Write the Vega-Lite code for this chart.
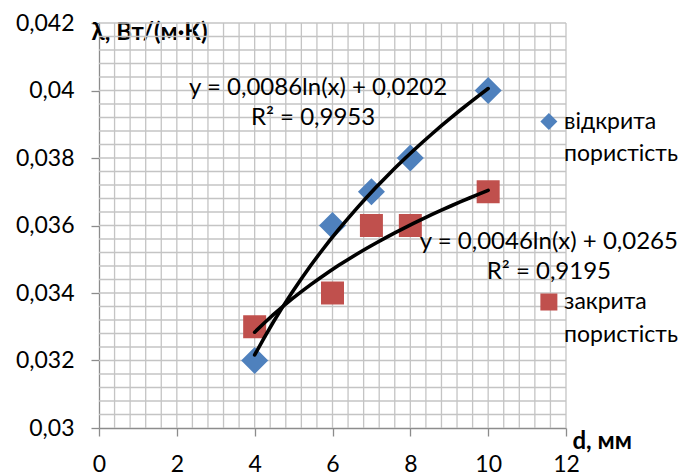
{
  "$schema": "https://vega.github.io/schema/vega-lite/v6.json",
  "width": 467,
  "height": 405,
  "autosize": {"type": "none"},
  "padding": {"left": 99, "top": 23, "right": 115, "bottom": 45},
  "background": "white",
  "resolve": {"axis": {"x": "independent", "y": "independent"}},
  "config": {
    "view": {"stroke": null},
    "font": "Lato",
    "axis": {
      "domainColor": "#8c8c8c",
      "domainWidth": 1.3,
      "tickColor": "#8c8c8c",
      "tickWidth": 1.3,
      "tickSize": 8,
      "labelFont": "Lato",
      "labelFontSize": 23,
      "labelColor": "#000000",
      "labelOverlap": false,
      "labelFlush": false,
      "titleFont": "Lato",
      "titleFontSize": 24,
      "titleFontWeight": "bold",
      "titleColor": "#000000"
    }
  },
  "datasets": {
    "pts": [
      {"series": "відкрита пористість", "d": 4, "lambda": 0.032},
      {"series": "відкрита пористість", "d": 6, "lambda": 0.036},
      {"series": "відкрита пористість", "d": 7, "lambda": 0.037},
      {"series": "відкрита пористість", "d": 8, "lambda": 0.038},
      {"series": "відкрита пористість", "d": 10, "lambda": 0.040},
      {"series": "закрита пористість", "d": 4, "lambda": 0.033},
      {"series": "закрита пористість", "d": 6, "lambda": 0.034},
      {"series": "закрита пористість", "d": 7, "lambda": 0.036},
      {"series": "закрита пористість", "d": 8, "lambda": 0.036},
      {"series": "закрита пористість", "d": 10, "lambda": 0.037}
    ],
    "gridx": [
      {"gx": 0.4}, {"gx": 0.8}, {"gx": 1.2}, {"gx": 1.6}, {"gx": 2}, {"gx": 2.4}, {"gx": 2.8}, {"gx": 3.2}, {"gx": 3.6}, {"gx": 4},
      {"gx": 4.4}, {"gx": 4.8}, {"gx": 5.2}, {"gx": 5.6}, {"gx": 6}, {"gx": 6.4}, {"gx": 6.8}, {"gx": 7.2}, {"gx": 7.6}, {"gx": 8},
      {"gx": 8.4}, {"gx": 8.8}, {"gx": 9.2}, {"gx": 9.6}, {"gx": 10}, {"gx": 10.4}, {"gx": 10.8}, {"gx": 11.2}, {"gx": 11.6}, {"gx": 12}
    ],
    "gridy": [
      {"gy": 0.0304}, {"gy": 0.0308}, {"gy": 0.0312}, {"gy": 0.0316}, {"gy": 0.032}, {"gy": 0.0324}, {"gy": 0.0328}, {"gy": 0.0332}, {"gy": 0.0336}, {"gy": 0.034},
      {"gy": 0.0344}, {"gy": 0.0348}, {"gy": 0.0352}, {"gy": 0.0356}, {"gy": 0.036}, {"gy": 0.0364}, {"gy": 0.0368}, {"gy": 0.0372}, {"gy": 0.0376}, {"gy": 0.038},
      {"gy": 0.0384}, {"gy": 0.0388}, {"gy": 0.0392}, {"gy": 0.0396}, {"gy": 0.04}, {"gy": 0.0404}, {"gy": 0.0408}, {"gy": 0.0412}, {"gy": 0.0416}, {"gy": 0.042}
    ]
  },
  "layer": [
    {
      "data": {"name": "gridx"},
      "mark": {"type": "rule", "color": "#c4c4c4", "strokeWidth": 1.3},
      "encoding": {
        "x": {"field": "gx", "type": "quantitative", "scale": {"domain": [0, 12], "nice": false, "zero": false}, "axis": null}
      }
    },
    {
      "data": {"name": "gridy"},
      "mark": {"type": "rule", "color": "#c4c4c4", "strokeWidth": 1.3},
      "encoding": {
        "y": {"field": "gy", "type": "quantitative", "scale": {"domain": [0.03, 0.042], "nice": false, "zero": false}, "axis": null}
      }
    },
    {
      "data": {"name": "pts"},
      "mark": {"type": "point", "filled": true, "opacity": 1, "strokeWidth": 0},
      "encoding": {
        "x": {
          "field": "d", "type": "quantitative",
          "scale": {"domain": [0, 12], "nice": false, "zero": false},
          "axis": {
            "orient": "bottom",
            "values": [0, 2, 4, 6, 8, 10, 12],
            "grid": false,
            "labelPadding": 17,
            "labelBaseline": "top",
            "title": "d, мм",
            "titleX": 473,
            "titleY": 13,
            "titleAlign": "left",
            "titleBaseline": "middle",
            "titleAnchor": null
          }
        },
        "y": {
          "field": "lambda", "type": "quantitative",
          "scale": {"domain": [0.03, 0.042], "nice": false, "zero": false},
          "axis": {
            "orient": "left",
            "values": [0.03, 0.032, 0.034, 0.036, 0.038, 0.04, 0.042],
            "grid": false,
            "labelExpr": "replace(format(datum.value, '~g'), '.', ',')",
            "labelPadding": 17,
            "title": "λ, Вт/(м·К)",
            "titleAngle": 0,
            "titleX": -8,
            "titleY": 9,
            "titleAlign": "left",
            "titleBaseline": "middle",
            "titleAnchor": null
          }
        },
        "color": {
          "field": "series", "type": "nominal",
          "scale": {"domain": ["відкрита пористість", "закрита пористість"], "range": ["#4F81BD", "#C0504D"]},
          "legend": null
        },
        "shape": {
          "field": "series", "type": "nominal",
          "scale": {"domain": ["відкрита пористість", "закрита пористість"], "range": ["diamond", "square"]},
          "legend": null
        },
        "size": {
          "field": "series", "type": "nominal",
          "scale": {"domain": ["відкрита пористість", "закрита пористість"], "range": [729, 529]},
          "legend": null
        }
      }
    },
    {
      "data": {"name": "pts"},
      "transform": [
        {"regression": "lambda", "on": "d", "method": "log", "extent": [4, 10], "groupby": ["series"]}
      ],
      "mark": {"type": "line", "color": "#000000", "strokeWidth": 3.6, "strokeCap": "round"},
      "encoding": {
        "x": {"field": "d", "type": "quantitative", "axis": null},
        "y": {"field": "lambda", "type": "quantitative", "axis": null},
        "detail": {"field": "series"}
      }
    },
    {
      "data": {"values": [{"series": "відкрита пористість"}]},
      "mark": {"type": "point", "filled": true, "opacity": 1, "strokeWidth": 0, "size": 289},
      "encoding": {
        "x": {"datum": 11.56, "axis": null},
        "y": {"datum": 0.03908, "axis": null},
        "color": {"field": "series", "type": "nominal"},
        "shape": {"field": "series", "type": "nominal"}
      }
    },
    {
      "data": {"values": [{"series": "закрита пористість"}]},
      "mark": {"type": "point", "filled": true, "opacity": 1, "strokeWidth": 0, "size": 289},
      "encoding": {
        "x": {"datum": 11.56, "axis": null},
        "y": {"datum": 0.033733, "axis": null},
        "color": {"field": "series", "type": "nominal"},
        "shape": {"field": "series", "type": "nominal"}
      }
    },
    {
      "data": {"values": [{"series": "відкрита пористість"}]},
      "mark": {"type": "text", "align": "left", "baseline": "middle", "lineBreak": " ", "lineHeight": 32, "font": "Lato", "fontSize": 23, "color": "#000000"},
      "encoding": {
        "x": {"datum": 11.95, "axis": null},
        "y": {"datum": 0.039067, "axis": null},
        "text": {"field": "series"}
      }
    },
    {
      "data": {"values": [{"series": "закрита пористість"}]},
      "mark": {"type": "text", "align": "left", "baseline": "middle", "lineBreak": " ", "lineHeight": 33, "font": "Lato", "fontSize": 23, "color": "#000000"},
      "encoding": {
        "x": {"datum": 11.95, "axis": null},
        "y": {"datum": 0.033733, "axis": null},
        "text": {"field": "series"}
      }
    },
    {
      "data": {"values": [{"label": "y = 0,0086ln(x) + 0,0202"}]},
      "mark": {"type": "text", "align": "center", "baseline": "middle", "font": "Lato", "fontSize": 24, "color": "#000000"},
      "encoding": {"x": {"datum": 5.63, "axis": null}, "y": {"datum": 0.04007, "axis": null}, "text": {"field": "label"}}
    },
    {
      "data": {"values": [{"label": "R² = 0,9953"}]},
      "mark": {"type": "text", "align": "center", "baseline": "middle", "font": "Lato", "fontSize": 24, "color": "#000000"},
      "encoding": {"x": {"datum": 5.5, "axis": null}, "y": {"datum": 0.039185, "axis": null}, "text": {"field": "label"}}
    },
    {
      "data": {"values": [{"label": "y = 0,0046ln(x) + 0,0265"}]},
      "mark": {"type": "text", "align": "center", "baseline": "middle", "font": "Lato", "fontSize": 24, "color": "#000000"},
      "encoding": {"x": {"datum": 11.56, "axis": null}, "y": {"datum": 0.035511, "axis": null}, "text": {"field": "label"}}
    },
    {
      "data": {"values": [{"label": "R² = 0,9195"}]},
      "mark": {"type": "text", "align": "center", "baseline": "middle", "font": "Lato", "fontSize": 24, "color": "#000000"},
      "encoding": {"x": {"datum": 11.56, "axis": null}, "y": {"datum": 0.034622, "axis": null}, "text": {"field": "label"}}
    }
  ]
}
